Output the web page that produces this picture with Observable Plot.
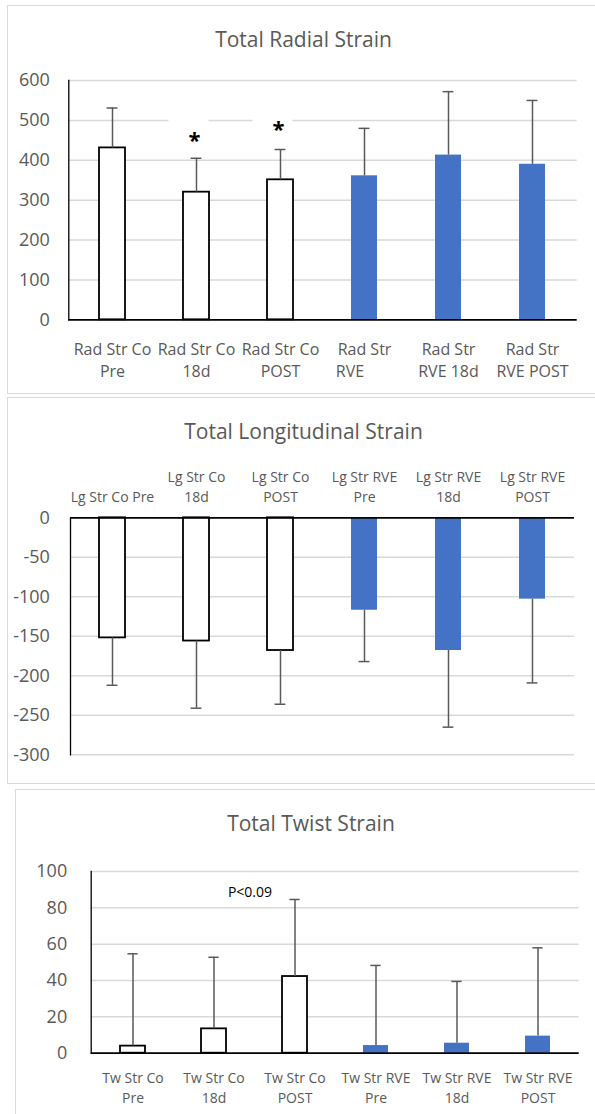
<!DOCTYPE html>
<html><head><meta charset="utf-8">
<script src="https://cdn.jsdelivr.net/npm/d3@7"></script>
<script src="https://cdn.jsdelivr.net/npm/@observablehq/plot@0.6"></script>
<style>
html,body{margin:0;padding:0;background:#fff;}
#root{position:relative;width:595px;height:1114px;overflow:hidden;font-family:"Open Sans",sans-serif;}
.panel{position:absolute;border:1.5px solid #d9d9d9;box-sizing:border-box;}
.title{position:absolute;font-size:21px;line-height:21px;color:#595959;text-align:center;white-space:nowrap;}
.chart{position:absolute;left:0;}
</style></head><body><div id="root"></div>
<script>
// ---- data ----
const groups = ["Co", "Co", "Co", "RVE", "RVE", "RVE"];

const radialCats = ["Rad Str Co\nPre", "Rad Str Co\n18d", "Rad Str Co\nPOST", "Rad Str\nRVE\u00a0\u00a0\u00a0\u00a0\u00a0\u00a0\u00a0", "Rad Str\nRVE 18d", "Rad Str\nRVE POST"];
const radialMeans = [431, 320, 351, 361, 413, 390];
const radialSD = [100, 85, 76, 119, 159, 160];
const radialTicks = [0, 100, 200, 300, 400, 500, 600];
const radialStars = [{cat: "Rad Str Co\n18d", y: 463}, {cat: "Rad Str Co\nPOST", y: 490}];

const longCats = ["Lg Str Co Pre", "Lg Str Co\n18d", "Lg Str Co\nPOST", "Lg Str RVE\nPre", "Lg Str RVE\n18d", "Lg Str RVE\nPOST"];
const longMeans = [-152, -156, -168, -117, -168, -103];
const longSD = [60, 85, 68, 65, 97, 106];
const longTicks = [0, -50, -100, -150, -200, -250, -300];

const twistCats = ["Tw Str Co\nPre", "Tw Str Co\n18d", "Tw Str Co\nPOST", "Tw Str RVE\nPre", "Tw Str RVE\n18d", "Tw Str RVE\nPOST"];
const twistMeans = [3.9, 13.4, 42.2, 4.2, 5.5, 9.4];
const twistSD = [50.8, 39.4, 42.4, 44.1, 34.0, 48.6];
const twistTicks = [0, 20, 40, 60, 80, 100];
const twistNote = [{cat: "Tw Str Co\nPOST", y: 86, text: "P<0.09"}];

const titles = ["Total Radial Strain", "Total Longitudinal Strain", "Total Twist Strain"];

// ---- layout helpers ----
const root = document.getElementById("root");
function addBox(cls, css, text) {
  const d = document.createElement("div");
  d.className = cls;
  Object.assign(d.style, css);
  if (text) d.textContent = text;
  root.appendChild(d);
  return d;
}
addBox("panel", {left: "7px", top: "5px", width: "600px", height: "389px"});
addBox("panel", {left: "7px", top: "397px", width: "600px", height: "387px"});
addBox("panel", {left: "15px", top: "789px", width: "600px", height: "400px"});
addBox("title", {left: "0px", width: "607px", top: "29px"}, titles[0]);
addBox("title", {left: "0px", width: "607px", top: "421px"}, titles[1]);
addBox("title", {left: "0px", width: "622px", top: "813px"}, titles[2]);

function panel(o) {
  const rows = o.cats.map((c, i) => ({cat: c, v: o.means[i], e: o.means[i] + o.dir * o.sds[i], g: groups[i]}));
  const bw = 0.31;
  const marks = [
    Plot.ruleY(o.ticks.filter(t => t !== 0), {stroke: "#d9d9d9", strokeWidth: 1.5}),
    ...(o.before || []),
    Plot.barY(rows.filter(d => d.g === "Co"), {x: "cat", y: "v", fill: "white", stroke: "black", strokeWidth: 1.8}),
    Plot.barY(rows.filter(d => d.g === "RVE"), {x: "cat", y: "v", fill: "#4472C4"}),
    Plot.ruleX(rows, {x: "cat", y1: "v", y2: "e", stroke: "#595959", strokeWidth: 1.5}),
    Plot.tickY(rows, {x: "cat", y: "e", stroke: "#595959", strokeWidth: 1.5, inset: o.capInset}),
    Plot.ruleY([0], {stroke: "black", strokeWidth: 1.8}),
    Plot.frame({anchor: "left", stroke: "black", strokeWidth: 1.3}),
    Plot.axisY({ticks: o.ticks, tickSize: 0, tickPadding: o.yPad, fontSize: 18, color: "#595959", label: null, tickFormat: d => String(d)}),
    Plot.axisX({anchor: o.xAnchor, tickSize: 0, tickPadding: o.xPad, fontSize: o.xSize, lineHeight: o.lineH, color: "#595959", label: null}),
    ...(o.after || [])
  ];
  const chart = Plot.plot({
    width: 595,
    height: o.height,
    marginLeft: o.mL, marginRight: o.mR, marginTop: o.mT, marginBottom: o.mB,
    x: {domain: o.cats, paddingInner: 1 - bw, paddingOuter: (1 - bw) / 2, axis: null, label: null},
    y: {domain: o.domain, axis: null, label: null},
    style: {fontFamily: "Open Sans", background: "transparent", overflow: "visible"},
    marks
  });
  chart.classList.add("chart");
  chart.style.top = o.top + "px";
  chart.style.position = "absolute";
  root.appendChild(chart);
}

panel({
  cats: radialCats, means: radialMeans, sds: radialSD, dir: 1, ticks: radialTicks, domain: [0, 600],
  top: 0, height: 393, mL: 68.3, mR: 18.3, mT: 80, mB: 73.7,
  xAnchor: "bottom", xPad: 20, xSize: 16, lineH: 22 / 16, yPad: 19, capInset: 7.6,
  before: [
    Plot.dot(radialStars, {x: "cat", y: "y", symbol: "square", r: 22.6, fill: "white", dx: -8, dy: -3})
  ],
  after: [
    Plot.text(radialStars, {x: "cat", y: "y", text: () => "*", fontSize: 22, fontWeight: "bold", fill: "black", dx: -2, dy: 6})
  ]
});

panel({
  cats: longCats, means: longMeans, sds: longSD, dir: -1, ticks: longTicks, domain: [-300, 0],
  top: 397, height: 386, mL: 70, mR: 21, mT: 120.3, mB: 28.7,
  xAnchor: "top", xPad: 15.6, xSize: 14, lineH: 20 / 14, yPad: 20.7, capInset: 7.6
});

panel({
  cats: twistCats, means: twistMeans, sds: twistSD, dir: 1, ticks: twistTicks, domain: [0, 100],
  top: 789, height: 325, mL: 90.7, mR: 16.3, mT: 82, mB: 61.3,
  xAnchor: "bottom", xPad: 15.7, xSize: 14, lineH: 20 / 14, yPad: 24, capInset: 7.4,
  after: [
    Plot.text(twistNote, {x: "cat", y: "y", text: "text", fontSize: 14, fill: "black", textAnchor: "end", lineAnchor: "bottom", dx: -23})
  ]
});
</script></body></html>
